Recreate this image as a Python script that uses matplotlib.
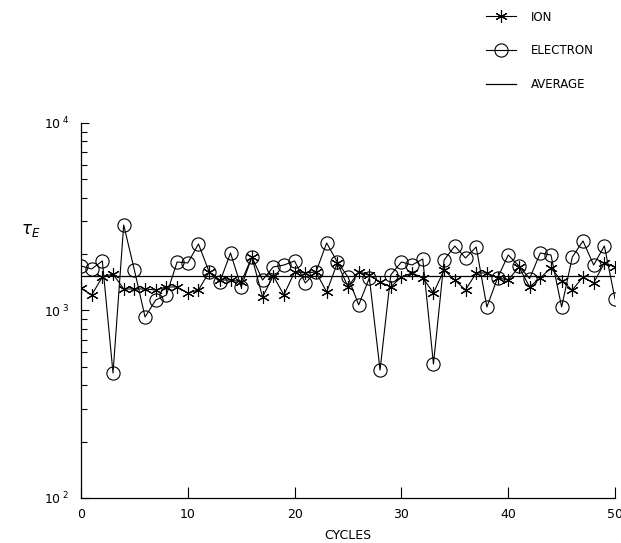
import matplotlib.pyplot as plt

plt.rcParams["font.family"] = "DejaVu Sans"

cycles = list(range(51))

# energy confinement time per cycle
ion = [1318, 1210, 1509, 1566, 1302, 1302, 1302, 1286, 1335, 1335,
       1240, 1286, 1605, 1454, 1454, 1419, 1929, 1180, 1530, 1210,
       1605, 1585, 1605, 1255, 1792, 1335, 1605, 1547, 1419, 1335,
       1509, 1585, 1491, 1240, 1644, 1454, 1286, 1585, 1585, 1491,
       1454, 1706, 1335, 1491, 1686, 1436, 1286, 1509, 1402, 1792,
       1706]
electron = [1727, 1665, 1837, 464, 2858, 1644, 923, 1138, 1210, 1814,
            1792, 2263, 1605, 1419, 2026, 1335, 1929, 1454, 1706, 1748,
            1837, 1402, 1605, 2291, 1814, 1509, 1070, 1491, 481, 1547,
            1814, 1748, 1882, 518, 1859, 2208, 1905, 2182, 1044, 1491,
            1977, 1727, 1480, 2026, 1977, 1044, 1929, 2348, 1748, 2208,
            1152]
average = 1530

ytick_vals = [100, 1000, 10000]
ytick_text = [r"$\mathregular{10^{\ 2}}$", r"$\mathregular{10^{\ 3}}$", r"$\mathregular{10^{\ 4}}$"]
xtick_vals = [0, 10, 20, 30, 40, 50]

fig = plt.figure(figsize=(6.21, 5.43), dpi=100)
ax = fig.add_axes([0.1304, 0.0829, 0.86, 0.6906])

star = (6, 2, 0)
ax.plot(cycles, ion, color="black", lw=0.8, marker=star, markersize=9,
        markeredgewidth=0.8, label="ION")
ax.plot(cycles, electron, color="black", lw=0.8, marker="o", markersize=9.5,
        markerfacecolor="none", markeredgewidth=0.8, label="ELECTRON")
ax.plot([cycles[0], cycles[-1]], [average, average], color="black", lw=0.9,
        label="AVERAGE")

ax.set_yscale("log")
ax.set_xlim(0, 50)
ax.set_ylim(100, 10000)
ax.set_yticks(ytick_vals, labels=ytick_text)
ax.set_xticks(xtick_vals)

for s in ["top", "right"]:
    ax.spines[s].set_visible(False)
for s in ["left", "bottom"]:
    ax.spines[s].set_linewidth(0.9)

ax.tick_params(axis="both", which="major", direction="in", length=6, width=0.8,
               labelsize=9)
ax.tick_params(axis="y", which="minor", direction="in", length=4, width=0.8)
ax.tick_params(axis="y", which="major", pad=8)
ax.tick_params(axis="x", which="major", length=8, pad=7)

ax.set_xlabel("CYCLES", fontsize=9, labelpad=6)
ax.set_ylabel(r"$\tau_E$", fontsize=12, rotation=0)
ax.yaxis.set_label_coords(-0.095, 0.69)

fig.legend(loc="upper left", bbox_to_anchor=(0.765, 1.0), frameon=False,
           fontsize=8.5, handlelength=2.6, handletextpad=1.2, labelspacing=1.75)

plt.savefig("out.png", dpi=100)
